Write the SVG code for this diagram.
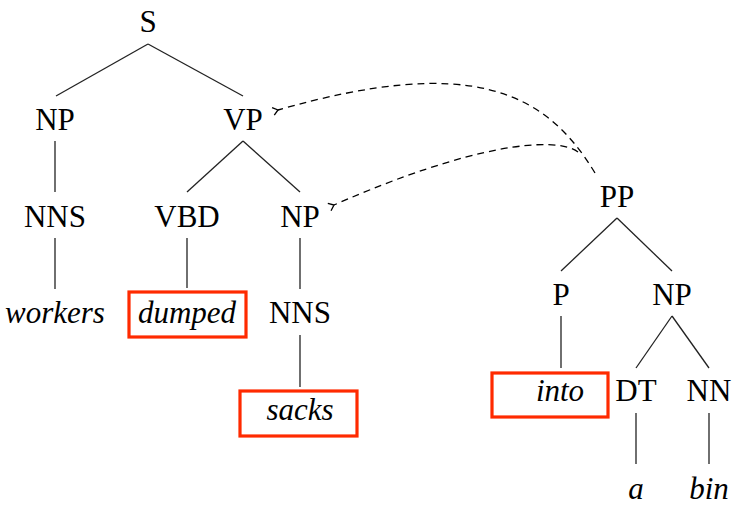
<svg xmlns="http://www.w3.org/2000/svg" width="744" height="508" viewBox="0 0 744 508">
<style>
text{font-family:"Liberation Serif","Times New Roman",serif;font-size:31px;fill:#000;text-anchor:middle}
.w{font-style:italic}
.e{stroke:#222;stroke-width:1.3;fill:none}
.d{stroke:#000;stroke-width:1.3;fill:none;stroke-dasharray:7 5}
.box{fill:none;stroke:#ff2a00;stroke-width:3.2}
</style>
<defs>
<marker id="ah" markerWidth="12" markerHeight="12" refX="1" refY="6" orient="auto-start-reverse" markerUnits="userSpaceOnUse">
<path d="M6 2 L1 6 L6 10" fill="none" stroke="#000" stroke-width="1.3"/>
</marker>
</defs>
<rect width="744" height="508" fill="#fff"/>
<g id="edges">
<line class="e" x1="148" y1="44" x2="56" y2="96"/>
<line class="e" x1="148" y1="44" x2="243" y2="96"/>
<line class="e" x1="55" y1="141" x2="55" y2="192"/>
<line class="e" x1="243" y1="141" x2="187" y2="192"/>
<line class="e" x1="243" y1="141" x2="300" y2="192"/>
<line class="e" x1="55" y1="238" x2="55" y2="289"/>
<line class="e" x1="187" y1="238" x2="187" y2="288"/>
<line class="e" x1="300" y1="238" x2="300" y2="289"/>
<line class="e" x1="300" y1="335" x2="300" y2="387"/>
<line class="e" x1="617" y1="218" x2="561" y2="271"/>
<line class="e" x1="617" y1="218" x2="672" y2="271"/>
<line class="e" x1="561" y1="316" x2="561" y2="368"/>
<line class="e" x1="672" y1="316" x2="636" y2="368"/>
<line class="e" x1="672" y1="316" x2="709" y2="368"/>
<line class="e" x1="636" y1="413" x2="636" y2="464"/>
<line class="e" x1="709" y1="413" x2="709" y2="464"/>
</g>
<g id="arrows">
<path class="d" d="M595 173 C545 90 470 55 278 110" marker-end="url(#ah)"/>
<path class="d" d="M578 152 C555 135 470 145 334 205" marker-end="url(#ah)"/>
</g>
<g id="n-S"><text x="148" y="32">S</text></g>
<g id="n-NP1"><text x="55" y="130">NP</text></g>
<g id="n-VP"><text x="243" y="130">VP</text></g>
<g id="n-NNS1"><text x="55" y="227">NNS</text></g>
<g id="n-VBD"><text x="187" y="227">VBD</text></g>
<g id="n-NP2"><text x="300" y="227">NP</text></g>
<g id="n-workers"><text class="w" x="55" y="323">workers</text></g>
<g id="n-dumped"><rect class="box" x="129" y="292" width="117" height="45"/><text class="w" x="187" y="323">dumped</text></g>
<g id="n-NNS2"><text x="300" y="323">NNS</text></g>
<g id="n-sacks"><rect class="box" x="240" y="391" width="117" height="45"/><text class="w" x="300" y="420">sacks</text></g>
<g id="n-PP"><text x="617" y="207">PP</text></g>
<g id="n-P"><text x="561" y="305">P</text></g>
<g id="n-NP3"><text x="672" y="305">NP</text></g>
<g id="n-into"><rect class="box" x="492" y="373" width="116" height="44"/><text class="w" x="560" y="401">into</text></g>
<g id="n-DT"><text x="636" y="401">DT</text></g>
<g id="n-NN"><text x="709" y="401">NN</text></g>
<g id="n-a"><text class="w" x="636" y="499">a</text></g>
<g id="n-bin"><text class="w" x="709" y="499">bin</text></g>
</svg>
